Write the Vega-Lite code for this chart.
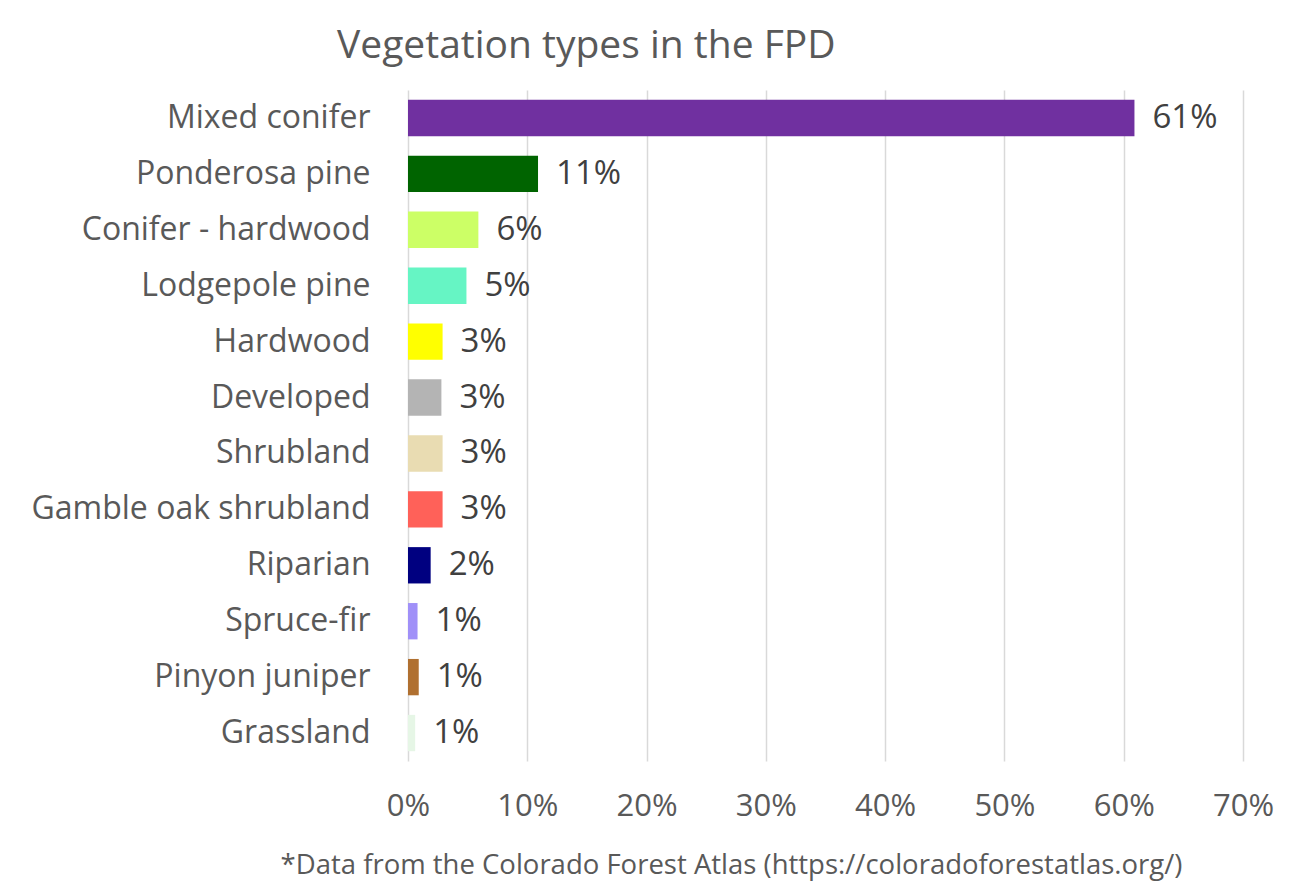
{
  "$schema": "https://vega.github.io/schema/vega-lite/v6.json",
  "autosize": {"type": "none"},
  "padding": {"left": 408, "top": 90, "right": 51, "bottom": 132},
  "width": 835,
  "height": 671,
  "background": "white",
  "title": {
    "text": "Vegetation types in the FPD",
    "anchor": "start",
    "frame": "group",
    "dx": -71,
    "offset": 24,
    "fontSize": 39,
    "font": "Open Sans",
    "fontWeight": "normal",
    "color": "#595959"
  },
  "data": {
    "values": [
      {"type": "Mixed conifer", "share": 0.609, "color": "#7030a0"},
      {"type": "Ponderosa pine", "share": 0.109, "color": "#006400"},
      {"type": "Conifer - hardwood", "share": 0.059, "color": "#ccff66"},
      {"type": "Lodgepole pine", "share": 0.049, "color": "#66f5c4"},
      {"type": "Hardwood", "share": 0.029, "color": "#ffff00"},
      {"type": "Developed", "share": 0.028, "color": "#b4b4b4"},
      {"type": "Shrubland", "share": 0.029, "color": "#e9dcb2"},
      {"type": "Gamble oak shrubland", "share": 0.029, "color": "#ff6159"},
      {"type": "Riparian", "share": 0.019, "color": "#000080"},
      {"type": "Spruce-fir", "share": 0.008, "color": "#a090f8"},
      {"type": "Pinyon juniper", "share": 0.009, "color": "#b07030"},
      {"type": "Grassland", "share": 0.006, "color": "#e6f6e6"}
    ]
  },
  "encoding": {
    "y": {
      "field": "type",
      "type": "nominal",
      "sort": null,
      "scale": {"paddingInner": 0.35, "paddingOuter": 0.175},
      "axis": {
        "title": null,
        "ticks": false,
        "domain": false,
        "labelPadding": 38,
        "labelFontSize": 32,
        "labelFont": "Open Sans",
        "labelColor": "#595959",
        "labelLimit": 500
      }
    },
    "x": {
      "field": "share",
      "type": "quantitative",
      "scale": {"domain": [0, 0.7], "nice": false},
      "axis": {
        "format": ".0%",
        "values": [0, 0.1, 0.2, 0.3, 0.4, 0.5, 0.6, 0.7],
        "ticks": false,
        "domain": false,
        "grid": true,
        "gridColor": "#d9d9d9",
        "gridWidth": 1.5,
        "labelFlush": false,
        "labelPadding": 30,
        "labelFontSize": 31,
        "labelFont": "Open Sans",
        "labelColor": "#595959",
        "title": "*Data from the Colorado Forest Atlas (https://coloradoforestatlas.org/)",
        "titleFont": "Open Sans",
        "titleFontSize": 27.5,
        "titleFontWeight": "normal",
        "titleColor": "#595959",
        "titleX": 323,
        "titleY": 104,
        "titleBaseline": "middle"
      }
    }
  },
  "layer": [
    {
      "mark": {"type": "bar"},
      "encoding": {
        "color": {"field": "color", "type": "nominal", "scale": null}
      }
    },
    {
      "mark": {"type": "text", "align": "left", "baseline": "middle", "dx": 18, "fontSize": 33, "font": "Open Sans", "color": "#404040"},
      "encoding": {
        "text": {"field": "share", "type": "quantitative", "format": ".0%"}
      }
    }
  ],
  "config": {"view": {"stroke": null}}
}
